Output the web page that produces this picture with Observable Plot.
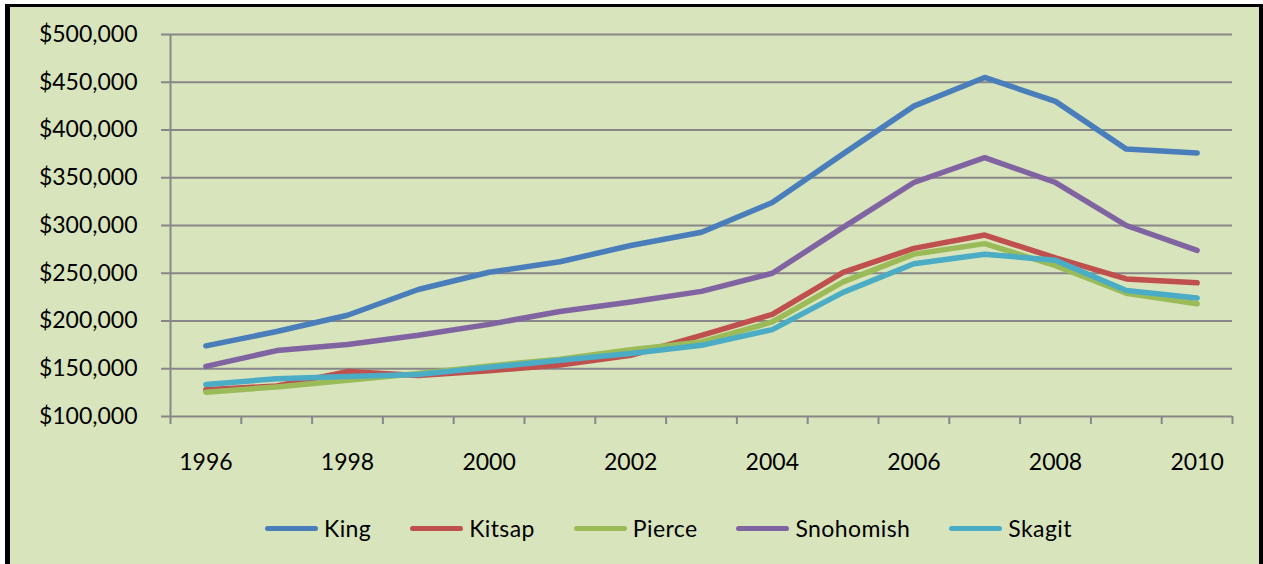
<!DOCTYPE html>
<html>
<head>
<meta charset="utf-8">
<script src="https://cdn.jsdelivr.net/npm/d3@7"></script>
<script src="https://cdn.jsdelivr.net/npm/@observablehq/plot@0.6"></script>
<style>
  html, body { margin: 0; padding: 0; background: #fff; overflow: hidden; }
  #frame { position: absolute; left: 5px; top: 4px; width: 1249px; height: 620px;
           border-left: 5px solid #000; border-top: 3px solid #000; border-right: 4px solid #000;
           background: #D8E4BC; }
  #chart { position: absolute; left: 0; top: 0; }
  #legend { position: absolute; left: 265px; top: 512px; height: 32px; display: flex; align-items: center;
            gap: 39px; font-family: Lato, sans-serif; font-size: 23px; color: #000; }
  .item { display: flex; align-items: center; }
  .sw { width: 53px; height: 5px; border-radius: 3px; margin-right: 6px; }
  .lbl { letter-spacing: 0.4px; }
</style>
</head>
<body>
<div id="frame"></div>
<div id="chart"></div>
<div id="legend"></div>
<script>
const years = [1996,1997,1998,1999,2000,2001,2002,2003,2004,2005,2006,2007,2008,2009,2010];
const counties = ["King","Kitsap","Pierce","Snohomish","Skagit"];
const king      = [174000,189000,206000,233000,251000,262000,279000,293000,324000,375000,425000,455000,430000,380000,376000];
const kitsap    = [128000,132000,147000,143000,148000,154000,164000,185000,207000,251000,276000,290000,266000,244000,240000];
const pierce    = [125500,131000,138000,145000,153000,160000,170000,178000,199000,241000,270000,281000,258000,229000,218000];
const snohomish = [152500,169000,175500,185000,196500,210000,220000,231000,250000,298000,345000,371000,345000,300000,274000];
const skagit    = [133500,139500,142000,144000,151500,159000,166000,174500,191000,230000,260000,270000,263500,232000,224000];
const yTicks = [100000,150000,200000,250000,300000,350000,400000,450000,500000];
const xLabels = [1996,1998,2000,2002,2004,2006,2008,2010];
const colors = ["#4A7EBB","#C0504D","#9BBB59","#8064A2","#4BACC6"];

const seriesValues = [king, kitsap, pierce, snohomish, skagit];
const data = counties.flatMap((c, i) => years.map((y, j) => ({county: c, year: y, value: seriesValues[i][j]})));
const xBounds = [years[0] - 0.5, ...years.map(y => y + 0.5)];
const grid = "#878787";
const fmt = d => "$" + d3.format(",")(d);

const chart = Plot.plot({
  width: 1263, height: 490,
  marginLeft: 170, marginRight: 31, marginTop: 34, marginBottom: 74,
  style: {background: "transparent", fontFamily: "Lato, sans-serif", fontSize: "23px", color: "#000"},
  x: {domain: [years[0] - 0.5, years[years.length - 1] + 0.5], label: null},
  y: {domain: [yTicks[0], yTicks[yTicks.length - 1]], label: null},
  color: {domain: counties, range: colors},
  marks: [
    Plot.ruleY(yTicks, {stroke: grid, strokeWidth: 2}),
    Plot.ruleX([xBounds[0]], {stroke: grid, strokeWidth: 2}),
    Plot.axisY({ticks: yTicks, tickSize: 9, tickPadding: 24, tickFormat: fmt, stroke: grid, strokeWidth: 2, fill: "#000", fontSize: 23, label: null}),
    Plot.axisX({ticks: xBounds, tickSize: 8, tickFormat: () => "", stroke: grid, strokeWidth: 2, label: null}),
    Plot.axisX({ticks: xLabels, tickSize: 0, tickPadding: 37, tickFormat: d => String(d), fill: "#000", fontSize: 23, label: null}),
    Plot.line(data, {x: "year", y: "value", z: "county", stroke: "county", strokeWidth: 5.5,
                     strokeLinecap: "round", strokeLinejoin: "round"})
  ]
});
document.getElementById("chart").appendChild(chart);

const legend = document.getElementById("legend");
counties.forEach((c, i) => {
  const item = document.createElement("div");
  item.className = "item";
  const sw = document.createElement("div");
  sw.className = "sw";
  sw.style.background = colors[i];
  const t = document.createElement("span");
  t.className = "lbl";
  t.textContent = c;
  item.appendChild(sw); item.appendChild(t);
  legend.appendChild(item);
});
</script>
</body>
</html>
